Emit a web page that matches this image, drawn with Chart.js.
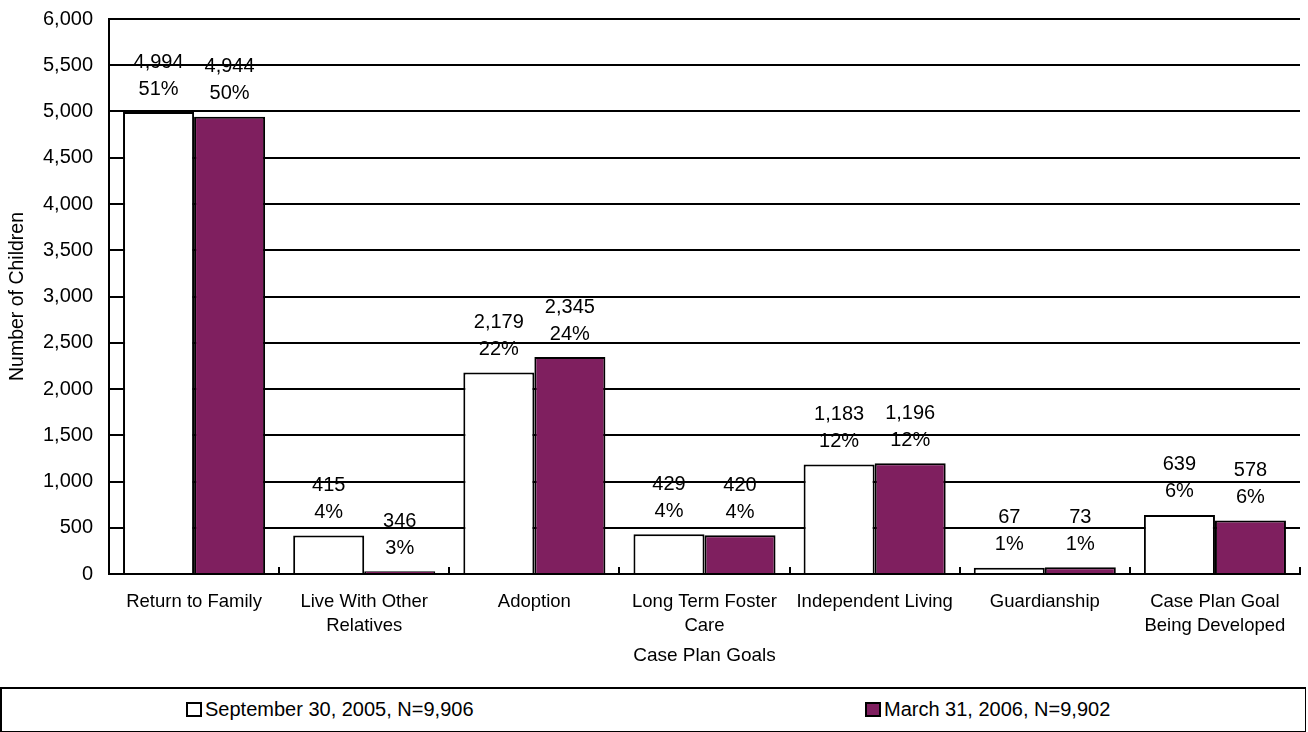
<!DOCTYPE html>
<html>
<head>
<meta charset="utf-8">
<script src="https://cdn.jsdelivr.net/npm/chart.js@4"></script>
<style>
  html, body { margin: 0; padding: 0; background: #fff; }
  body { width: 1308px; height: 732px; overflow: hidden; font-family: 'Liberation Sans', Arial, sans-serif; position: relative; }
  #wrap { position: absolute; left: 0; top: -9px; width: 1308px; height: 696px; }
  #legend {
    position: absolute; left: 0; top: 687px; width: 1303px; height: 42px;
    border: 2px solid #000; border-right-width: 1px; box-sizing: content-box;
    font-size: 20px; color: #000;
  }
  .item { position: absolute; top: 9px; display: flex; align-items: center; white-space: nowrap; }
  .box { width: 16px; height: 15px; border: 2px solid #000; margin-right: 3px; box-sizing: border-box; }
</style>
</head>
<body>
<div id="wrap"><canvas id="chart"></canvas></div>
<div id="legend">
  <div class="item" style="left:184px"><span class="box" style="background:#fff"></span>September 30, 2005, N=9,906</div>
  <div class="item" style="left:863px"><span class="box" style="background:#7f1f5f"></span>March 31, 2006, N=9,902</div>
</div>
<script>
const categories = [
  'Return to Family',
  ['Live With Other', 'Relatives'],
  'Adoption',
  ['Long Term Foster', 'Care'],
  'Independent Living',
  'Guardianship',
  ['Case Plan Goal', 'Being Developed']
];
const sepCounts = [4994, 415, 2179, 429, 1183, 67, 639];
const sepPercents = [51, 4, 22, 4, 12, 1, 6];
// bar as drawn in the picture (the 346 bar is drawn only ~30 high)
const marValues = [4944, 30, 2345, 420, 1196, 73, 578];
const marCounts = [4944, 346, 2345, 420, 1196, 73, 578];
const marPercents = [50, 3, 24, 4, 12, 1, 6];
const yTicks = [0, 500, 1000, 1500, 2000, 2500, 3000, 3500, 4000, 4500, 5000, 5500, 6000];

const FONT = "'Liberation Sans', Arial, sans-serif";
const purple = '#7f1f5f';

const barLabels = {
  id: 'barLabels',
  afterDatasetsDraw(chart) {
    const ctx = chart.ctx;
    const counts = [sepCounts, marCounts];
    const pcts = [sepPercents, marPercents];
    ctx.save();
    ctx.fillStyle = '#000';
    ctx.font = '20px ' + FONT;
    ctx.textAlign = 'center';
    ctx.textBaseline = 'middle';
    chart.data.datasets.forEach((ds, di) => {
      chart.getDatasetMeta(di).data.forEach((bar, i) => {
        ctx.fillText(counts[di][i].toLocaleString('en-US'), bar.x, bar.y - 50);
        ctx.fillText(pcts[di][i] + '%', bar.x, bar.y - 23);
      });
    });
    ctx.restore();
  }
};

// small inward tick marks between the category groups
const innerTicks = {
  id: 'innerTicks',
  afterDatasetsDraw(chart) {
    const x = chart.scales.x;
    const ctx = chart.ctx;
    const bottom = chart.chartArea.bottom;
    const step = x.width / categories.length;
    ctx.save();
    ctx.strokeStyle = '#000';
    ctx.lineWidth = 2;
    for (let i = 1; i <= categories.length; i++) {
      const px = Math.round(x.left + step * i);
      ctx.beginPath();
      ctx.moveTo(px, bottom);
      ctx.lineTo(px, bottom - 7);
      ctx.stroke();
    }
    ctx.restore();
  }
};

new Chart(document.getElementById('chart'), {
  type: 'bar',
  data: {
    labels: categories,
    datasets: [{
      label: 'September 30, 2005, N=9,906',
      data: sepCounts,
      backgroundColor: '#ffffff',
      borderColor: '#000',
      borderWidth: 2,
      borderSkipped: 'bottom',
      categoryPercentage: 0.835,
      barPercentage: 1
    }, {
      label: 'March 31, 2006, N=9,902',
      data: marValues,
      backgroundColor: purple,
      borderColor: '#000',
      borderWidth: 2,
      borderSkipped: 'bottom',
      categoryPercentage: 0.835,
      barPercentage: 1
    }]
  },
  options: {
    responsive: true,
    maintainAspectRatio: false,
    animation: false,
    layout: { padding: { top: 7, right: 8, left: 0, bottom: 0 } },
    plugins: {
      legend: { display: false },
      tooltip: { enabled: false }
    },
    scales: {
      x: {
        grid: { display: false },
        border: { display: true, color: '#000', width: 2 },
        ticks: {
          color: '#000',
          font: { family: FONT, size: 18.5, lineHeight: 1.3 },
          padding: 8,
          maxRotation: 0,
          autoSkip: false
        },
        title: {
          display: true,
          text: 'Case Plan Goals',
          color: '#000',
          font: { family: FONT, size: 19 },
          padding: { top: 0, bottom: 20 }
        },
        afterFit(scale) { scale.height = 113; }
      },
      y: {
        min: 0,
        max: 6000,
        afterBuildTicks(scale) { scale.ticks = yTicks.map(v => ({ value: v })); },
        grid: { color: '#000', lineWidth: 2, drawTicks: false },
        border: { display: true, color: '#000', width: 2 },
        ticks: {
          color: '#000',
          font: { family: FONT, size: 20 },
          padding: 16,
          callback: v => v.toLocaleString('en-US')
        },
        title: {
          display: true,
          text: 'Number of Children',
          color: '#000',
          font: { family: FONT, size: 19.5 },
          padding: { top: 6, bottom: 4 }
        },
        afterFit(scale) { scale.width = 109; }
      }
    }
  },
  plugins: [barLabels, innerTicks]
});
</script>
</body>
</html>
